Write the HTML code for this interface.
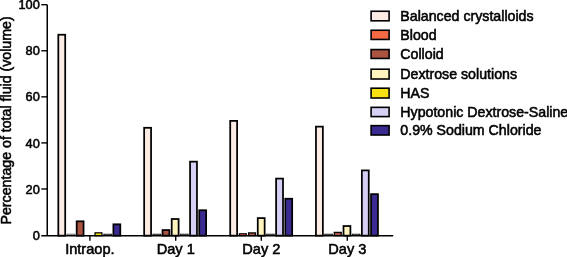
<!DOCTYPE html>
<html><head><meta charset="utf-8"><style>
html,body{margin:0;padding:0;background:#fff;}
body{width:567px;height:257px;overflow:hidden;}
svg{display:block;font-family:"Liberation Sans", sans-serif;will-change:transform;}
</style></head><body>
<svg width="567" height="257" viewBox="0 0 567 257" fill="#000">
<style>text{stroke:#000;stroke-width:0.55px;}</style>
<rect x="58.31" y="34.73" width="6.9" height="200.92" fill="#FDECE4" stroke="#000" stroke-width="1.75"/>
<path d="M67.19 235.65V234.3H74.69V235.65" fill="none" stroke="#666" stroke-width="1.1"/>
<rect x="76.67" y="221.32" width="6.9" height="14.33" fill="#A95340" stroke="#000" stroke-width="1.75"/>
<rect x="95.03" y="232.84" width="6.9" height="2.81" fill="#F8E012" stroke="#000" stroke-width="1.25"/>
<path d="M103.91 235.65V234.27H111.41V235.65" fill="none" stroke="#111" stroke-width="1.1"/>
<rect x="113.39" y="224.31" width="6.9" height="11.34" fill="#3A2B92" stroke="#000" stroke-width="1.75"/>
<rect x="144.16" y="127.8" width="6.9" height="107.85" fill="#FDECE4" stroke="#000" stroke-width="1.75"/>
<path d="M153.04 235.65V234.27H160.54V235.65" fill="none" stroke="#111" stroke-width="1.1"/>
<rect x="162.52" y="230.07" width="6.9" height="5.58" fill="#A95340" stroke="#000" stroke-width="1.75"/>
<rect x="171.7" y="219.01" width="6.9" height="16.64" fill="#FFF3BE" stroke="#000" stroke-width="1.75"/>
<path d="M180.58 235.65V234.21H188.08V235.65" fill="none" stroke="#111" stroke-width="1.1"/>
<rect x="190.06" y="161.66" width="6.9" height="73.99" fill="#D8CFF4" stroke="#000" stroke-width="1.75"/>
<rect x="199.24" y="210.26" width="6.9" height="25.39" fill="#3A2B92" stroke="#000" stroke-width="1.75"/>
<rect x="230.21" y="120.89" width="6.9" height="114.76" fill="#FDECE4" stroke="#000" stroke-width="1.75"/>
<rect x="239.39" y="233.8" width="6.9" height="1.85" fill="#F46A45" stroke="#000" stroke-width="1.25"/>
<rect x="248.57" y="232.9" width="6.9" height="2.75" fill="#A95340" stroke="#000" stroke-width="1.25"/>
<rect x="257.75" y="218.09" width="6.9" height="17.56" fill="#FFF3BE" stroke="#000" stroke-width="1.75"/>
<path d="M266.63 235.65V234.27H274.13V235.65" fill="none" stroke="#111" stroke-width="1.1"/>
<rect x="276.11" y="178.59" width="6.9" height="57.06" fill="#D8CFF4" stroke="#000" stroke-width="1.75"/>
<rect x="285.29" y="198.74" width="6.9" height="36.91" fill="#3A2B92" stroke="#000" stroke-width="1.75"/>
<rect x="315.96" y="126.64" width="6.9" height="109.01" fill="#FDECE4" stroke="#000" stroke-width="1.75"/>
<path d="M324.84 235.65V234.21H332.34V235.65" fill="none" stroke="#111" stroke-width="1.1"/>
<rect x="334.32" y="232.38" width="6.9" height="3.27" fill="#A95340" stroke="#000" stroke-width="1.25"/>
<rect x="343.5" y="226.04" width="6.9" height="9.61" fill="#FFF3BE" stroke="#000" stroke-width="1.75"/>
<path d="M352.38 235.65V234.27H359.88V235.65" fill="none" stroke="#111" stroke-width="1.1"/>
<rect x="361.86" y="170.41" width="6.9" height="65.24" fill="#D8CFF4" stroke="#000" stroke-width="1.75"/>
<rect x="371.04" y="194.14" width="6.9" height="41.51" fill="#3A2B92" stroke="#000" stroke-width="1.75"/>
<path d="M47.25 4.7V235.65" stroke="#000" stroke-width="1.5" fill="none"/>
<path d="M41.3 188.98H47.25" stroke="#000" stroke-width="1.4" fill="none"/>
<path d="M41.3 142.91H47.25" stroke="#000" stroke-width="1.4" fill="none"/>
<path d="M41.3 96.84H47.25" stroke="#000" stroke-width="1.4" fill="none"/>
<path d="M41.3 50.77H47.25" stroke="#000" stroke-width="1.4" fill="none"/>
<path d="M41.3 4.7H47.25" stroke="#000" stroke-width="1.4" fill="none"/>
<path d="M41.3 235.65H393.2" stroke="#000" stroke-width="1.5" fill="none"/>
<path d="M89.9 235.65V240.8" stroke="#000" stroke-width="1.4" fill="none"/>
<path d="M175.7 235.65V240.8" stroke="#000" stroke-width="1.4" fill="none"/>
<path d="M261.3 235.65V240.8" stroke="#000" stroke-width="1.4" fill="none"/>
<path d="M347.3 235.65V240.8" stroke="#000" stroke-width="1.4" fill="none"/>
<text x="39.8" y="239.7" text-anchor="end" font-size="12.8">0</text>
<text x="39.8" y="193.63" text-anchor="end" font-size="12.8">20</text>
<text x="39.8" y="147.56" text-anchor="end" font-size="12.8">40</text>
<text x="39.8" y="101.49" text-anchor="end" font-size="12.8">60</text>
<text x="39.8" y="55.42" text-anchor="end" font-size="12.8">80</text>
<text x="39.8" y="9.35" text-anchor="end" font-size="12.8">100</text>
<text x="89.9" y="253.9" text-anchor="middle" font-size="14.6">Intraop.</text>
<text x="175.7" y="253.9" text-anchor="middle" font-size="14.6">Day 1</text>
<text x="261.3" y="253.9" text-anchor="middle" font-size="14.6">Day 2</text>
<text x="347.3" y="253.9" text-anchor="middle" font-size="14.6">Day 3</text>
<text transform="translate(10.9 120.4) rotate(-90)" text-anchor="middle" font-size="14.2">Percentage of total fluid (volume)</text>
<rect x="371.1" y="11.25" width="18" height="9.55" fill="#FDECE4" stroke="#000" stroke-width="1.6"/>
<text x="400.3" y="20.6" font-size="14.2">Balanced crystalloids</text>
<rect x="371.1" y="30.25" width="18" height="9.2" fill="#F46A45" stroke="#000" stroke-width="1.6"/>
<text x="400.3" y="39.9" font-size="14.2">Blood</text>
<rect x="371.1" y="49.55" width="18" height="8.9" fill="#A95340" stroke="#000" stroke-width="1.6"/>
<text x="400.3" y="58.9" font-size="14.2">Colloid</text>
<rect x="371.1" y="69.2" width="18" height="9.8" fill="#FFF3BE" stroke="#000" stroke-width="1.6"/>
<text x="400.3" y="78.8" font-size="14.2">Dextrose solutions</text>
<rect x="371.1" y="88.2" width="18" height="9.8" fill="#F8E012" stroke="#000" stroke-width="1.6"/>
<text x="400.3" y="98" font-size="14.2">HAS</text>
<rect x="371.1" y="107.35" width="18" height="9.25" fill="#D8CFF4" stroke="#000" stroke-width="1.6"/>
<text x="400.3" y="116.6" font-size="14.2">Hypotonic Dextrose-Saline</text>
<rect x="371.1" y="125.65" width="18" height="9.35" fill="#3A2B92" stroke="#000" stroke-width="1.6"/>
<text x="400.3" y="134.8" font-size="14.2">0.9% Sodium Chloride</text>
</svg>
</body></html>
